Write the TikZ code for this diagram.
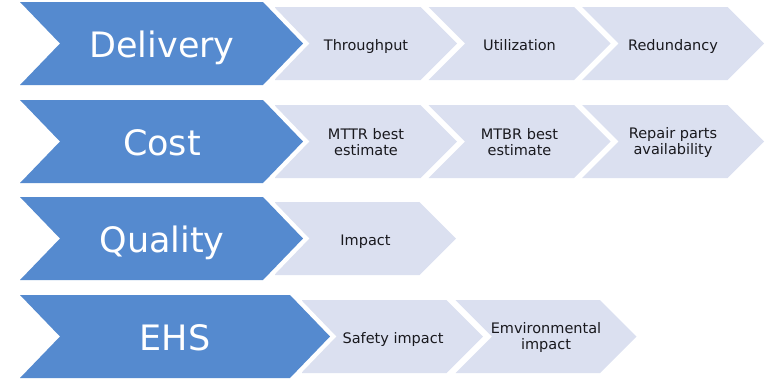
\documentclass[tikz,border=0pt]{standalone}
\usepackage{fontspec}
\setmainfont{DejaVu Sans}
\definecolor{bigblue}{RGB}{85,138,207}
\definecolor{liteblue}{RGB}{219,224,240}
\definecolor{txtcol}{RGB}{25,25,30}
\tikzset{
  bigfill/.style={fill=bigblue},
  halo/.style={draw=white, line width=9pt, line join=miter},
  litefill/.style={fill=liteblue},
  bigtxt/.style={text=white, font=\fontsize{35}{35}\selectfont, anchor=base, inner sep=0pt},
  smtxt/.style={text=txtcol, font=\fontsize{14.5}{16}\selectfont, align=center, inner sep=0pt},
  oneline/.style={smtxt, anchor=base},
}
% big chevron: #1 left, #2 tip, #3 mid y
\newcommand\bigchev[3]{%
  \path[halo] (#1,#3-41.5) -- (#2-40,#3-41.5) -- (#2,#3) -- (#2-40,#3+41.5) -- (#1,#3+41.5) -- (#1+40,#3) -- cycle;
  \path[bigfill] (#1,#3-41.5) -- (#2-40,#3-41.5) -- (#2,#3) -- (#2-40,#3+41.5) -- (#1,#3+41.5) -- (#1+40,#3) -- cycle;
}
% light chevron: #1 left, #2 tip, #3 mid y, #4 notch depth
\newcommand\litechev[4]{%
  \path[litefill] (#1,#3-36.5) -- (#2-36.5,#3-36.5) -- (#2,#3) -- (#2-36.5,#3+36.5) -- (#1,#3+36.5) -- (#1+#4,#3) -- cycle;
}
\begin{document}
\begin{tikzpicture}[x=1pt,y=-1pt]
\useasboundingbox (0,0) rectangle (777,381);
% Row 1
\litechev{275}{457}{43.5}{0}
\litechev{428.5}{610.5}{43.5}{36.5}
\litechev{582}{764}{43.5}{36.5}
\bigchev{20}{303}{43.5}
\node[bigtxt] (delivery) at (162,57) {Delivery};
\node[oneline] (thr) at (366,50) {Throughput};
\node[oneline] (uti) at (519.5,50) {Utilization};
\node[oneline] (red) at (673,50) {Redundancy};
% Row 2
\litechev{275}{457}{141.5}{0}
\litechev{428.5}{610.5}{141.5}{36.5}
\litechev{582}{764}{141.5}{36.5}
\bigchev{20}{303}{141.5}
\node[bigtxt] (cost) at (162,155) {Cost};
\node[smtxt] (mttr) at (366,142.5) {MTTR best\\estimate};
\node[smtxt] (mtbr) at (519.5,142.5) {MTBR best\\estimate};
\node[smtxt] (rep) at (673,142.5) {Repair parts\\availability};
% Row 3
\litechev{275}{456}{238.5}{0}
\bigchev{20}{303}{238.5}
\node[bigtxt] (quality) at (162,252) {Quality};
\node[oneline] (imp) at (365.5,245) {Impact};
% Row 4
\litechev{302}{483}{336.5}{0}
\litechev{455.5}{636.5}{336.5}{36.5}
\bigchev{20}{330}{336.5}
\node[bigtxt] (ehs) at (175,350) {EHS};
\node[oneline] (saf) at (393,343) {Safety impact};
\node[smtxt] (env) at (546,337.5) {Emvironmental\\impact};
\end{tikzpicture}
\end{document}
